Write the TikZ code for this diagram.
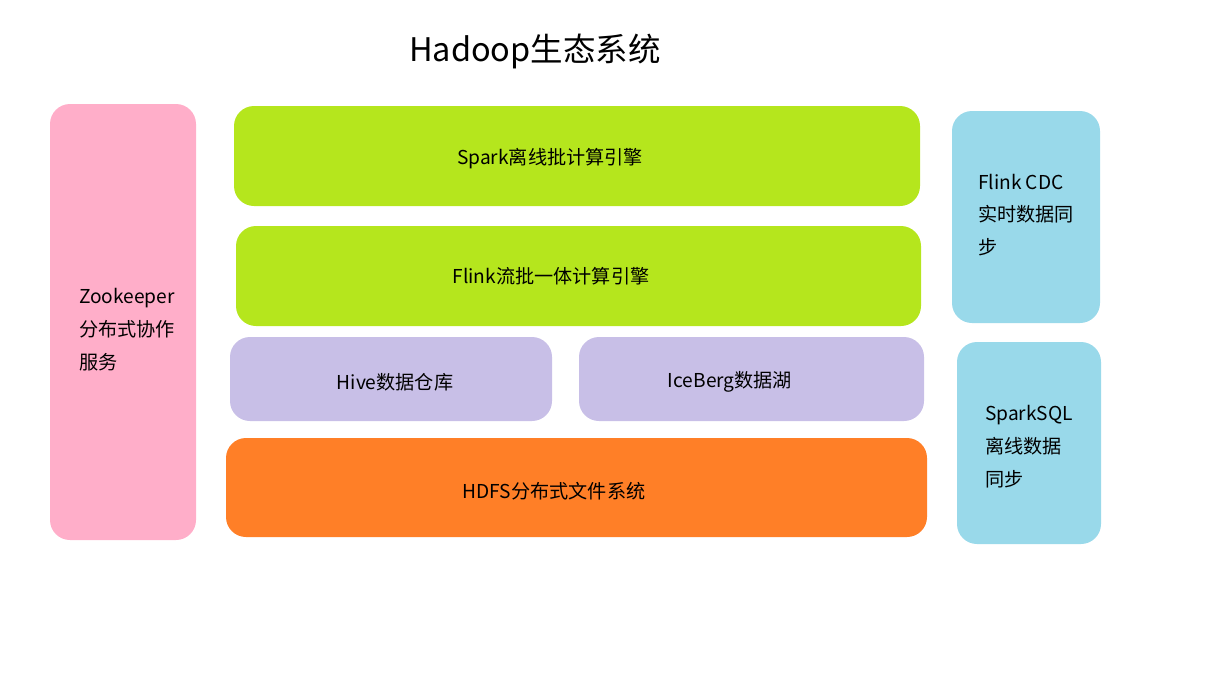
\documentclass[tikz,border=0pt]{standalone}
\usepackage{fontspec}
\setmainfont{Noto Sans CJK SC}
\usetikzlibrary{positioning}
\usepackage{xcolor}
\definecolor{zkpink}{HTML}{FFAEC9}
\definecolor{enginegreen}{HTML}{B5E61D}
\definecolor{storelilac}{HTML}{C8BFE7}
\definecolor{hdfsorange}{HTML}{FF7F27}
\definecolor{syncblue}{HTML}{99D9EA}

\begin{document}
\begin{tikzpicture}[
				layer/.style={rectangle,rounded corners=0.4cm,inner sep=0pt},
				txt/.style={font=\fontsize{10.9}{18.7}\selectfont,align=left},
				engine/.style={layer,fill=enginegreen,minimum height=2cm},
				store/.style={layer,fill=storelilac,minimum height=1.68cm},
				sync/.style={layer,fill=syncblue}
				]
				\useasboundingbox (0,0) rectangle (24.36,-13.44);
				
				\node[font=\fontsize{18.5}{20}\selectfont] (title) at (10.70,-1.02) {Hadoop生态系统};
				
				\node[layer,fill=zkpink,minimum width=2.92cm,minimum height=8.72cm,label={[txt,xshift=0.08cm,yshift=-0.16cm]center:Zookeeper\\分布式协作\\服务}] (zookeeper) at (2.46,-6.44) {};
				
				\node[engine,minimum width=13.72cm,label={[txt,xshift=-0.54cm,yshift=-0.06cm]center:Spark离线批计算引擎}] (spark) at (11.54,-3.12) {};
				\node[engine,minimum width=13.70cm,label={[txt,xshift=-0.55cm]center:Flink流批一体计算引擎}] (flink) at (11.57,-5.52) {};
				\node[store,minimum width=6.44cm,label={[txt,xshift=0.08cm,yshift=-0.06cm]center:Hive数据仓库}] (hive) at (7.82,-7.58) {};
				\node[store,minimum width=6.90cm,label={[txt,xshift=-0.43cm,yshift=-0.06cm]center:IceBerg数据湖}] (iceberg) at (15.03,-7.58) {};
				\node[layer,fill=hdfsorange,minimum width=14.02cm,minimum height=1.98cm,label={[txt,xshift=-0.45cm,yshift=-0.08cm]center:HDFS分布式文件系统}] (hdfs) at (11.53,-9.75) {};
				
				\node[sync,minimum width=2.96cm,minimum height=4.24cm,label={[txt,yshift=0.04cm]center:Flink CDC\\实时数据同\\步}] (flinkcdc) at (20.52,-4.34) {};
				\node[sync,minimum width=2.88cm,minimum height=4.04cm,label={[txt,yshift=-0.08cm]center:SparkSQL\\离线数据\\同步}] (sparksql) at (20.58,-8.86) {};
				
			\end{tikzpicture}
\end{document}
